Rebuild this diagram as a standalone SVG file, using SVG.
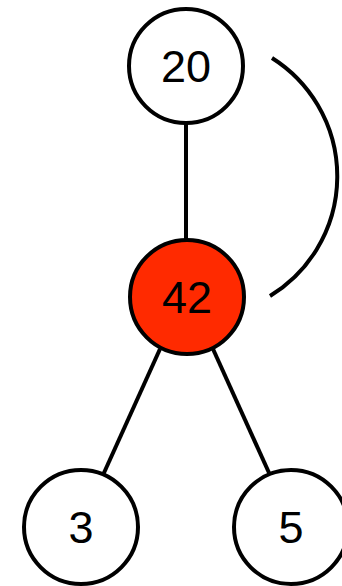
<svg xmlns="http://www.w3.org/2000/svg" width="342" height="586" viewBox="0 0 342 586">
<style>
.n{fill:#fff;stroke:#000;stroke-width:4}
.r{fill:#ff2a00}
.e{stroke:#000;stroke-width:4;fill:none}
text{font-family:"Liberation Sans",Arial,sans-serif;font-size:45px;text-anchor:middle;fill:#000}
</style>
<rect width="342" height="586" fill="#fff"/>
<g id="edges">
<line class="e" x1="186" y1="123" x2="186" y2="240"/>
<line class="e" x1="160" y1="349" x2="103" y2="475"/>
<line class="e" x1="213" y1="349" x2="270" y2="475"/>
<path class="e" d="M272,58 A140,140 0 0 1 270,296"/>
</g>
<g id="n20"><circle class="n" cx="186" cy="66" r="57"/><text x="186" y="82">20</text></g>
<g id="n42"><circle class="n r" cx="187" cy="297" r="57"/><text x="187" y="313">42</text></g>
<g id="n3"><circle class="n" cx="81" cy="527" r="57"/><text x="81" y="543">3</text></g>
<g id="n5"><circle class="n" cx="291" cy="527" r="57"/><text x="291" y="543">5</text></g>
</svg>
